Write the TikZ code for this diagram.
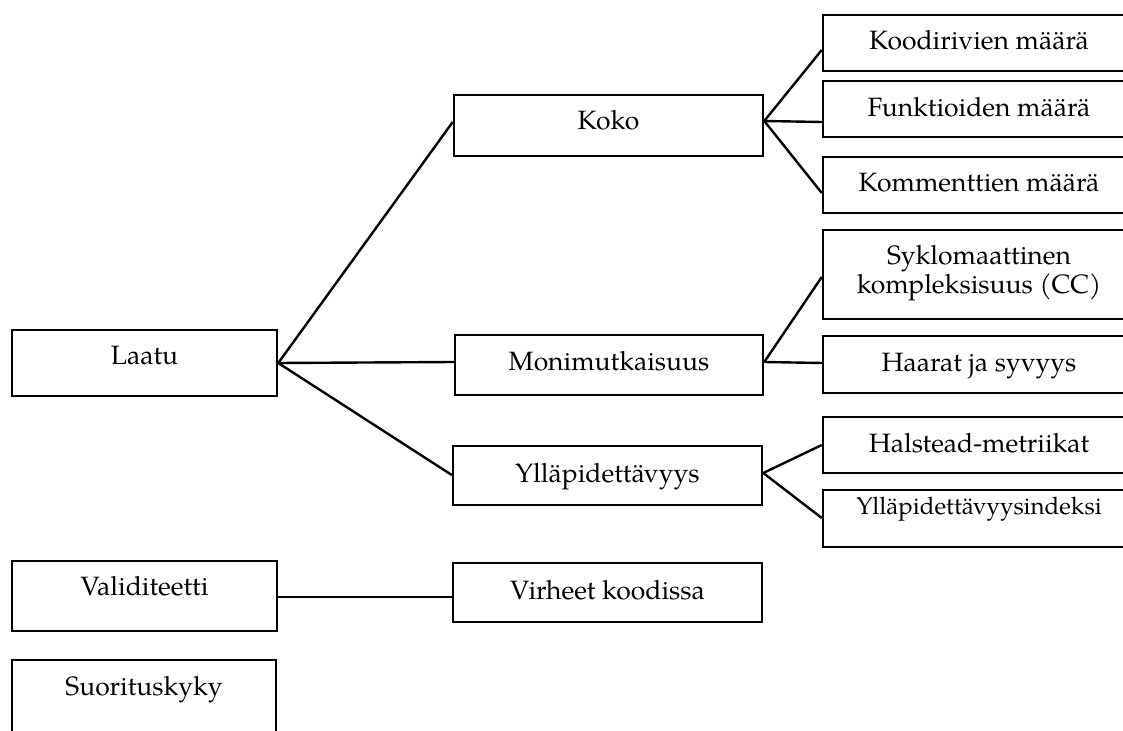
\documentclass[tikz,border=0pt]{standalone}
\usepackage{fontspec}
\setmainfont{TeX Gyre Pagella}
\begin{document}
\begin{tikzpicture}[x=0.5pt,y=-0.5pt,
  box/.style={draw, line width=1.25pt, inner sep=0pt, rectangle},
  lbl/.style={anchor=base, inner sep=0pt, font=\fontsize{13.25}{14.75}\selectfont},
  link/.style={line width=1.2pt}]
\useasboundingbox (0,0) rectangle (1123,731);
\clip (0,0) rectangle (1123,731);
% left column
\node[box, minimum width=132.5pt, minimum height=33pt] (laatu) at (144.5,363) {};
\node[box, minimum width=132.5pt, minimum height=35pt] (vali) at (144.5,596) {};
\node[box, minimum width=132pt, minimum height=50pt] (suor) at (144,710) {};
% middle column
\node[box, minimum width=154.5pt, minimum height=30.5pt] (koko) at (608.5,125.5) {};
\node[box, minimum width=154pt, minimum height=30pt] (moni) at (609,365) {};
\node[box, minimum width=154.5pt, minimum height=29.5pt] (yll) at (607.5,475.5) {};
\node[box, minimum width=154.5pt, minimum height=29.5pt] (virh) at (607.5,592.5) {};
% right column
\node[box, minimum width=156pt, minimum height=28pt] (kood) at (979,43) {};
\node[box, minimum width=156pt, minimum height=28pt] (funk) at (979,109) {};
\node[box, minimum width=156pt, minimum height=28pt] (komm) at (979,185) {};
\node[box, minimum width=156pt, minimum height=44.5pt] (syk) at (979,274.5) {};
\node[box, minimum width=156pt, minimum height=28.5pt] (haar) at (979,364.5) {};
\node[box, minimum width=156pt, minimum height=28pt] (hals) at (979,445) {};
\node[box, minimum width=156pt, minimum height=28.5pt] (yind) at (979,518.5) {};
% labels
\node[lbl] (t-laatu) at (144.5,365) {Laatu};
\node[lbl] (t-vali) at (144.5,595) {Validiteetti};
\node[lbl] (t-suor) at (144,695) {Suorituskyky};
\node[lbl] (t-koko) at (608.5,130) {Koko};
\node[lbl] (t-moni) at (609,371) {Monimutkaisuus};
\node[lbl] (t-yll) at (607.5,482) {Ylläpidettävyys};
\node[lbl] (t-virh) at (607.5,599) {Virheet koodissa};
\node[lbl] (t-kood) at (979,50) {Koodirivien määrä};
\node[lbl] (t-funk) at (979,117) {Funktioiden määrä};
\node[lbl] (t-komm) at (979,192) {Kommenttien määrä};
\node[lbl] (t-syk1) at (979,265) {Syklomaattinen};
\node[lbl] (t-syk2) at (979,294) {kompleksisuus (CC)};
\node[lbl] (t-haar) at (979,372) {Haarat ja syvyys};
\node[lbl] (t-hals) at (979,452) {Halstead-metriikat};
\node[lbl, font=\fontsize{12.05}{14}\selectfont] (t-yind) at (979,514) {Ylläpidettävyysindeksi};
% connectors
\draw[link] (laatu.east) -- (koko.west |- 0,122);
\draw[link] (laatu.east) -- (moni.west |- 0,362);
\draw[link] (laatu.east) -- (yll.west |- 0,475);
\draw[link] (koko.east |- 0,121) -- (kood.west |- 0,50);
\draw[link] (koko.east |- 0,121) -- (funk.west |- 0,122);
\draw[link] (koko.east |- 0,121) -- (komm.west |- 0,193);
\draw[link] (moni.east |- 0,362) -- (syk.west |- 0,277);
\draw[link] (moni.east |- 0,362) -- (haar.west |- 0,363);
\draw[link] (yll.east |- 0,473) -- (hals.west |- 0,445);
\draw[link] (yll.east |- 0,473) -- (yind.west |- 0,518);
\draw[link] (vali.east |- 0,597) -- (virh.west |- 0,597);
\end{tikzpicture}
\end{document}
